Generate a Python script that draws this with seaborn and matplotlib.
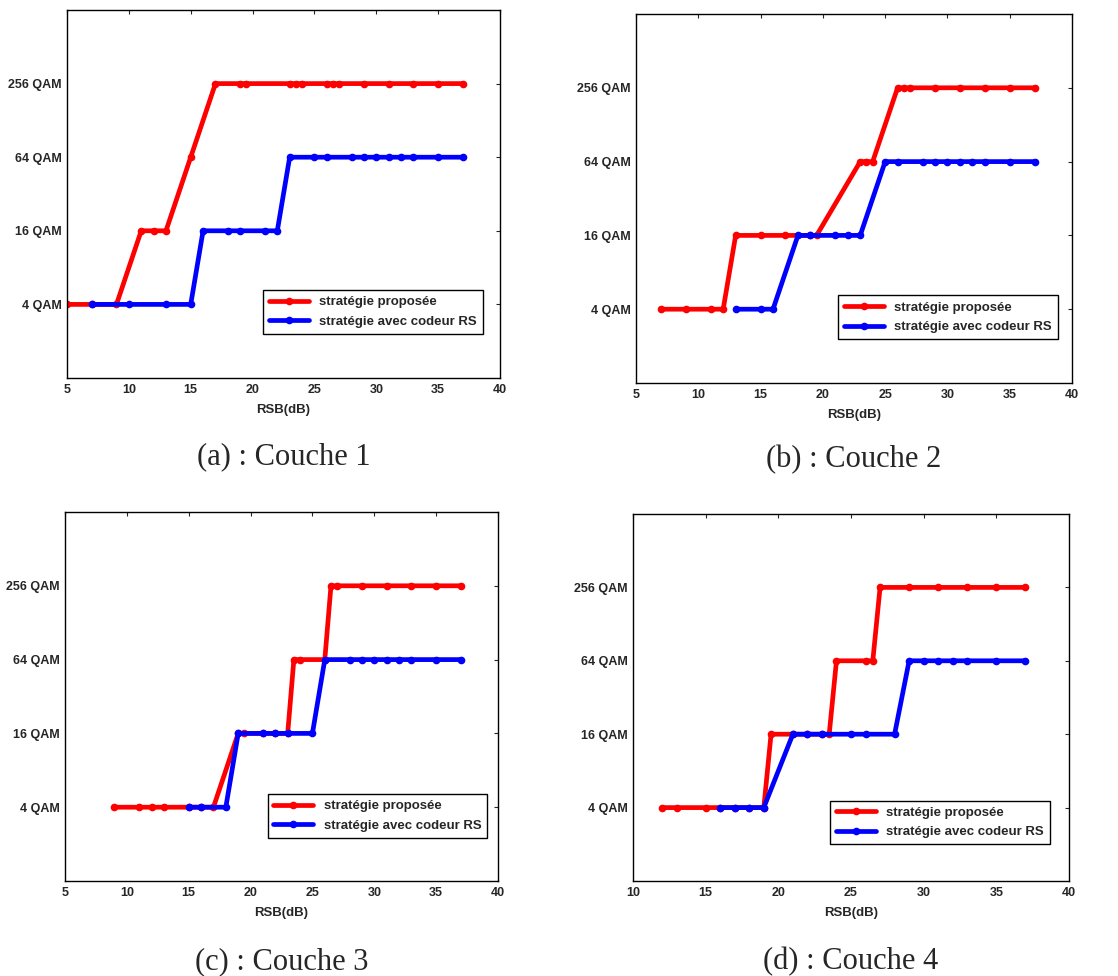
import pandas as pd
import matplotlib.pyplot as plt
import seaborn as sns

# modulation levels (bits/symbol) and labels
qam_ticks = [2, 4, 6, 8]
qam_labels = ['4 QAM', '16 QAM', '64 QAM', '256 QAM']
series_names = ['stratégie proposée', 'stratégie avec codeur RS']

# Couche 1
a_red_x = [5, 7, 9, 11, 12, 13, 15, 17, 19, 19.5, 23, 23.5, 24, 26, 26.5, 27, 29, 31, 33, 35, 37]
a_red_y = [2, 2, 2, 4, 4, 4, 6, 8, 8, 8, 8, 8, 8, 8, 8, 8, 8, 8, 8, 8, 8]
a_blue_x = [7, 10, 13, 15, 16, 18, 19, 21, 22, 23, 25, 26, 28, 29, 30, 31, 32, 33, 35, 37]
a_blue_y = [2, 2, 2, 2, 4, 4, 4, 4, 4, 6, 6, 6, 6, 6, 6, 6, 6, 6, 6, 6]

# Couche 2
b_red_x = [7, 9, 11, 12, 13, 15, 17, 19, 19.5, 23, 23.5, 24, 26, 26.5, 27, 29, 31, 33, 35, 37]
b_red_y = [2, 2, 2, 2, 4, 4, 4, 4, 4, 6, 6, 6, 8, 8, 8, 8, 8, 8, 8, 8]
b_blue_x = [13, 15, 16, 18, 19, 21, 22, 23, 25, 26, 28, 29, 30, 31, 32, 33, 35, 37]
b_blue_y = [2, 2, 2, 4, 4, 4, 4, 4, 6, 6, 6, 6, 6, 6, 6, 6, 6, 6]

# Couche 3
c_red_x = [9, 11, 12, 13, 15, 16, 17, 19, 19.5, 21, 22, 23, 23.5, 24, 26, 26.5, 27, 29, 31, 33, 35, 37]
c_red_y = [2, 2, 2, 2, 2, 2, 2, 4, 4, 4, 4, 4, 6, 6, 6, 8, 8, 8, 8, 8, 8, 8]
c_blue_x = [15, 16, 18, 19, 21, 22, 23, 25, 26, 28, 29, 30, 31, 32, 33, 35, 37]
c_blue_y = [2, 2, 2, 4, 4, 4, 4, 4, 6, 6, 6, 6, 6, 6, 6, 6, 6]

# Couche 4
d_red_x = [12, 13, 15, 16, 17, 18, 19, 19.5, 21, 22, 23, 23.5, 24, 26, 26.5, 27, 29, 31, 33, 35, 37]
d_red_y = [2, 2, 2, 2, 2, 2, 2, 4, 4, 4, 4, 4, 6, 6, 6, 8, 8, 8, 8, 8, 8]
d_blue_x = [16, 17, 18, 19, 21, 22, 23, 25, 26, 28, 29, 30, 31, 32, 33, 35, 37]
d_blue_y = [2, 2, 2, 2, 4, 4, 4, 4, 4, 4, 6, 6, 6, 6, 6, 6, 6]

panels = [
    (a_red_x, a_red_y, a_blue_x, a_blue_y, '(a) : Couche 1', (5, 40), (0.96, 0.12)),
    (b_red_x, b_red_y, b_blue_x, b_blue_y, '(b) : Couche 2', (5, 40), (0.968, 0.119)),
    (c_red_x, c_red_y, c_blue_x, c_blue_y, '(c) : Couche 3', (5, 40), (0.975, 0.117)),
    (d_red_x, d_red_y, d_blue_x, d_blue_y, '(d) : Couche 4', (10, 40), (0.956, 0.10)),
]

sns.set_style('white')
plt.rcParams['font.family'] = ['Liberation Sans', 'DejaVu Sans']

fig = plt.figure(figsize=(11.18, 9.76), dpi=100)
W, H = 1118, 976
# axes boxes in pixels: left, top, right, bottom
boxes = [(67, 10, 500, 378), (636, 14, 1072, 383), (65, 512, 498, 881), (633, 514, 1069, 881)]
captions_y = [457, 460, 962, 962]

for (rx, ry, bx, by, cap, xl, leg), (l, t, r, b), cy in zip(panels, boxes, captions_y):
    ax = fig.add_axes([l / W, 1 - b / H, (r - l) / W, (b - t) / H])
    df = pd.concat([
        pd.DataFrame({'RSB': rx, 'mod': ry, 'serie': series_names[0]}),
        pd.DataFrame({'RSB': bx, 'mod': by, 'serie': series_names[1]}),
    ])
    sns.lineplot(data=df, x='RSB', y='mod', hue='serie', palette=['#ff0000', '#0000ff'],
                 estimator=None, sort=False, marker='o', markersize=5.5, markeredgewidth=0,
                 linewidth=3.4, ax=ax)
    ax.set_xlim(*xl)
    ax.set_ylim(0, 10)
    ax.set_xticks(range(xl[0], 41, 5))
    ax.set_yticks(qam_ticks)
    ax.set_yticklabels(qam_labels)
    ax.tick_params(direction='in', top=True, right=True, length=3, width=0.8, pad=4,
                   labelsize=9)
    for lab in ax.get_xticklabels() + ax.get_yticklabels():
        lab.set_fontweight('bold')
    ax.set_xlabel('RSB(dB)', fontsize=9.5, fontweight='bold', labelpad=6)
    ax.set_ylabel('')
    for s in ax.spines.values():
        s.set_color('black')
        s.set_linewidth(1.0)
    lg = ax.legend(loc='lower right', bbox_to_anchor=leg, fancybox=False, framealpha=1,
                   edgecolor='black', prop={'size': 9.5, 'weight': 'bold'},
                   handlelength=3.0, borderpad=0.45, labelspacing=0.55, borderaxespad=0)
    lg.get_frame().set_linewidth(1.0)
    fig.text((l + r) / 2 / W, 1 - cy / H, cap, ha='center', va='center',
             fontsize=22, family='Liberation Serif')

fig.savefig('out.png', dpi=100)
